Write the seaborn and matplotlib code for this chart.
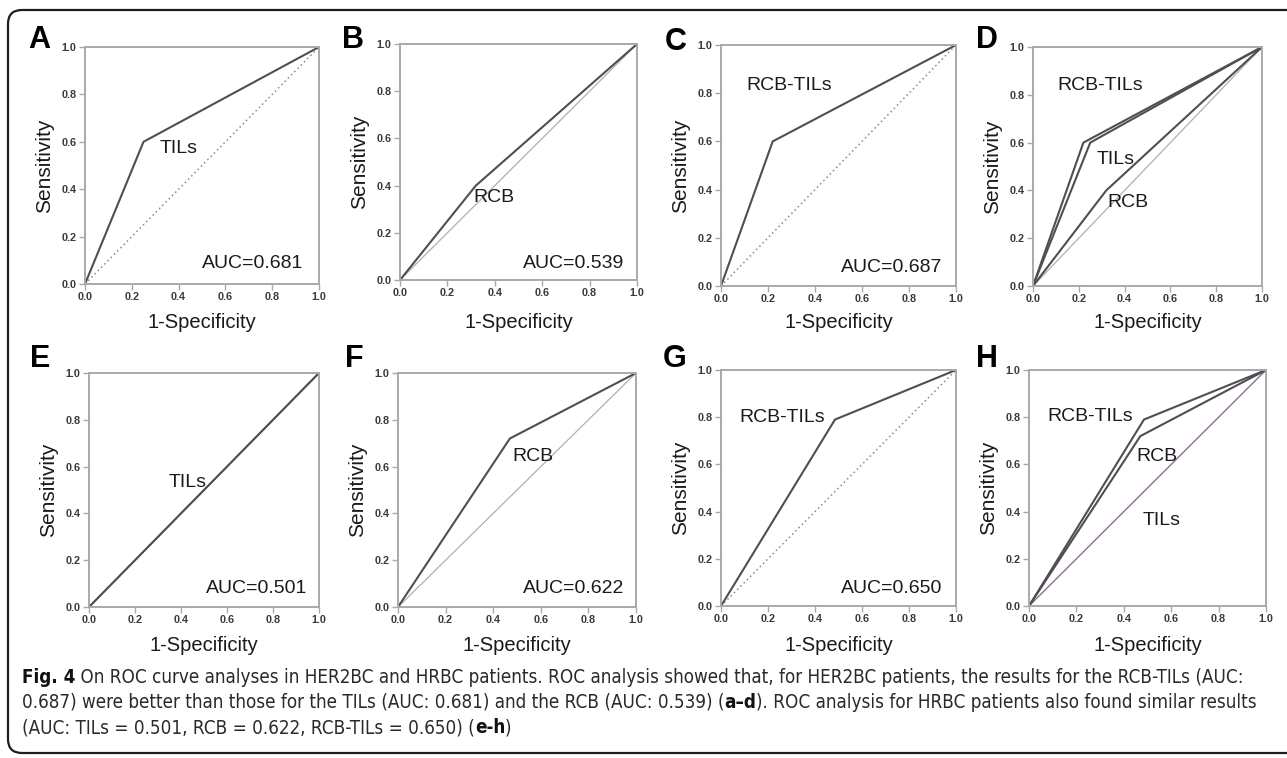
import numpy as np
import pandas as pd
import matplotlib
matplotlib.use("Agg")
import matplotlib.pyplot as plt
import seaborn as sns
from matplotlib import font_manager
from matplotlib.patches import FancyBboxPatch
from matplotlib.transforms import IdentityTransform

# ---------------- data ----------------
panel_letters = ["A", "B", "C", "D", "E", "F", "G", "H"]
auc_labels = ["AUC=0.681", "AUC=0.539", "AUC=0.687", None,
              "AUC=0.501", "AUC=0.622", "AUC=0.650", None]
tick_values = [0.0, 0.2, 0.4, 0.6, 0.8, 1.0]
tick_labels = ["0.0", "0.2", "0.4", "0.6", "0.8", "1.0"]

# ROC curves (1-specificity, sensitivity)
tils_her2_fpr = [0.0, 0.25, 1.0]
tils_her2_tpr = [0.0, 0.60, 1.0]
rcb_her2_fpr = [0.0, 0.32, 1.0]
rcb_her2_tpr = [0.0, 0.40, 1.0]
rcbtils_her2_fpr = [0.0, 0.22, 1.0]
rcbtils_her2_tpr = [0.0, 0.60, 1.0]
tils_hr_fpr = [0.0, 1.0]
tils_hr_tpr = [0.0, 1.0]
rcb_hr_fpr = [0.0, 0.47, 1.0]
rcb_hr_tpr = [0.0, 0.72, 1.0]
rcbtils_hr_fpr = [0.0, 0.485, 1.0]
rcbtils_hr_tpr = [0.0, 0.79, 1.0]
ref_fpr = [0.0, 1.0]
ref_tpr = [0.0, 1.0]

caption_line1 = [("Fig. 4", True),
                 (" On ROC curve analyses in HER2BC and HRBC patients. ROC analysis showed that, for HER2BC patients, the results for the RCB-TILs (AUC:", False)]
caption_line2 = [("0.687) were better than those for the TILs (AUC: 0.681) and the RCB (AUC: 0.539) (", False),
                 ("a\u2013d", True),
                 ("). ROC analysis for HRBC patients also found similar results", False)]
caption_line3 = [("(AUC: TILs = 0.501, RCB = 0.622, RCB-TILs = 0.650) (", False),
                 ("e-h", True), (")", False)]

# ---------------- long table for seaborn ----------------
curve_defs = [
    ("A", "TILs", tils_her2_fpr, tils_her2_tpr),
    ("B", "RCB", rcb_her2_fpr, rcb_her2_tpr),
    ("C", "RCB-TILs", rcbtils_her2_fpr, rcbtils_her2_tpr),
    ("D", "RCB-TILs", rcbtils_her2_fpr, rcbtils_her2_tpr),
    ("D", "TILs", tils_her2_fpr, tils_her2_tpr),
    ("D", "RCB", rcb_her2_fpr, rcb_her2_tpr),
    ("E", "TILs", tils_hr_fpr, tils_hr_tpr),
    ("F", "RCB", rcb_hr_fpr, rcb_hr_tpr),
    ("G", "RCB-TILs", rcbtils_hr_fpr, rcbtils_hr_tpr),
    ("H", "RCB-TILs", rcbtils_hr_fpr, rcbtils_hr_tpr),
    ("H", "RCB", rcb_hr_fpr, rcb_hr_tpr),
]
rows = []
for panel, name, fx, fy in curve_defs:
    for i, (x, y) in enumerate(zip(fx, fy)):
        rows.append({"panel": panel, "curve": name, "fpr": x, "tpr": y, "order": i})
df = pd.DataFrame(rows)
ref_df = pd.DataFrame({"fpr": ref_fpr, "tpr": ref_tpr})

# ---------------- style ----------------
sns.set_theme(style="white")
plt.rcParams["font.family"] = ["Liberation Sans", "DejaVu Sans"]

W, H = 1287, 758
fig = plt.figure(figsize=(W / 100, H / 100), dpi=100)
fig.patch.set_facecolor("white")

def px_axes(x0, y0, x1, y1):
    return fig.add_axes([x0 / W, 1 - y1 / H, (x1 - x0) / W, (y1 - y0) / H])

axes_px = {
    "A": (85, 47, 319, 284),
    "B": (400, 44, 637, 280),
    "C": (721, 45, 956, 286),
    "D": (1033, 47, 1262, 286),
    "E": (89, 373, 319, 607),
    "F": (398, 373, 636, 607),
    "G": (721, 370, 956, 606),
    "H": (1029, 370, 1266, 606),
}
xlabel_top_px = {"A": 313, "B": 313, "C": 313, "D": 313,
                 "E": 636, "F": 636, "G": 636, "H": 636}
letter_px = {
    "A": (39, 40), "B": (353, 40), "C": (676, 42), "D": (987, 40),
    "E": (40, 359), "F": (354, 359), "G": (675, 359), "H": (987, 359),
}
ref_style = {
    "A": dict(color="#8a8a8a", ls=(0, (1.0, 2.0)), lw=1.1),
    "B": dict(color="#b0b0b0", ls="-", lw=0.9),
    "C": dict(color="#8a8a8a", ls=(0, (1.0, 2.0)), lw=1.1),
    "D": dict(color="#b0b0b0", ls="-", lw=0.9),
    "E": dict(color="#555555", ls="-", lw=1.0),
    "F": dict(color="#b0b0b0", ls="-", lw=0.9),
    "G": dict(color="#8a8a8a", ls=(0, (1.0, 2.0)), lw=1.1),
    "H": dict(color="#8c6c9c", ls="-", lw=1.0),
}
curve_labels = {
    "A": [("TILs", 0.32, 0.57)],
    "B": [("RCB", 0.31, 0.35)],
    "C": [("RCB-TILs", 0.11, 0.83)],
    "D": [("RCB-TILs", 0.105, 0.84), ("TILs", 0.28, 0.53), ("RCB", 0.323, 0.35)],
    "E": [("TILs", 0.348, 0.53)],
    "F": [("RCB", 0.48, 0.645)],
    "G": [("RCB-TILs", 0.078, 0.80)],
    "H": [("RCB-TILs", 0.077, 0.805), ("RCB", 0.454, 0.633), ("TILs", 0.48, 0.364)],
}
auc_pos = {"A": (0.50, 0.087), "B": (0.52, 0.07), "C": (0.51, 0.077),
           "E": (0.51, 0.08), "F": (0.527, 0.077), "G": (0.51, 0.075)}

spine_col = "#a9a9a9"
curve_col = "#4f4f4f"

for idx, p in enumerate(panel_letters):
    x0, y0, x1, y1 = axes_px[p]
    ax = px_axes(x0, y0, x1, y1)
    ax.set_facecolor("white")
    rs = ref_style[p]
    sns.lineplot(data=ref_df, x="fpr", y="tpr", ax=ax, color=rs["color"],
                 linestyle=rs["ls"], linewidth=rs["lw"], estimator=None, sort=False)
    sub = df[df["panel"] == p]
    sns.lineplot(data=sub, x="fpr", y="tpr", units="curve", estimator=None,
                 sort=False, ax=ax, color=curve_col, linewidth=1.5, legend=False)
    ax.set_xlim(0, 1)
    ax.set_ylim(0, 1)
    ax.set_xticks(tick_values)
    ax.set_yticks(tick_values)
    ax.set_xticklabels(tick_labels)
    ax.set_yticklabels(tick_labels)
    ax.tick_params(axis="both", which="both", direction="out", length=4, width=1,
                   color=spine_col, labelsize=7.8, labelcolor="#3a3a3a", pad=2,
                   bottom=True, left=True, top=False, right=False)
    for lab in ax.get_xticklabels() + ax.get_yticklabels():
        lab.set_fontweight("bold")
    for s in ax.spines.values():
        s.set_visible(True)
        s.set_color(spine_col)
        s.set_linewidth(1.4)
    w = x1 - x0
    h = y1 - y0
    ax.set_xlabel("1-Specificity", fontsize=14.5, color="#1a1a1a")
    ax.set_ylabel("Sensitivity", fontsize=15, color="#1a1a1a")
    ax.xaxis.set_label_coords(0.5, -(xlabel_top_px[p] - y1) / h)
    ax.yaxis.set_label_coords(-31 / w, 0.5)
    for txt, tx, ty in curve_labels[p]:
        ax.text(tx, ty, txt, fontsize=14, color="#1a1a1a", ha="left", va="center")
    if auc_labels[idx] is not None:
        ax_, ay_ = auc_pos[p]
        ax.text(ax_, ay_, auc_labels[idx], fontsize=14, color="#1a1a1a",
                ha="left", va="center")
    lx, ly = letter_px[p]
    fig.text(lx / W, 1 - ly / H, p, fontsize=22, fontweight="bold", color="black",
             ha="center", va="center")

# ---------------- border ----------------
border = FancyBboxPatch((8, 758 - 753), 1320, 743,
                        boxstyle="round,pad=0,rounding_size=14",
                        transform=IdentityTransform(), fill=False,
                        edgecolor="#1e1e1e", linewidth=1.6)
fig.add_artist(border)

# ---------------- caption ----------------
names = {f.name for f in font_manager.fontManager.ttflist}
cap_family = ["Liberation Sans", "DejaVu Sans"]
cap_stretch = "normal"
if "Liberation Sans Narrow" in names:
    cap_family = ["Liberation Sans Narrow", "DejaVu Sans"]
else:
    cond = [f for f in font_manager.fontManager.ttflist
            if f.name == "DejaVu Sans" and str(f.stretch) in ("condensed", "semi-condensed", "600", "500", "700")]
    if cond:
        cap_family = ["DejaVu Sans", "Liberation Sans"]
        cap_stretch = "condensed"

cap_size = 12.5
baselines = [683, 708, 733]
all_pieces = []
line1_last = None
for li, (line, by) in enumerate(zip([caption_line1, caption_line2, caption_line3], baselines)):
    prev = None
    for txt, bold in line:
        kw = dict(fontsize=cap_size, family=cap_family, stretch=cap_stretch,
                  fontweight="bold" if bold else "normal",
                  color="#111111" if bold else "#2a2a2a")
        if prev is None:
            t = fig.text(22 / W, 1 - by / H, txt, ha="left", va="baseline", **kw)
        else:
            t = fig.add_artist(matplotlib.text.Annotation(
                txt, xy=(1, 0), xycoords=prev, ha="left", va="bottom", **kw))
        all_pieces.append(t)
        prev = t
    if li == 0:
        line1_last = prev

# fit caption width so line 1 spans 22 -> 1245 px
fig.canvas.draw()
r = fig.canvas.get_renderer()
right = line1_last.get_window_extent(r).x1
scale = (1245 - 22) / (right - 22)
for t in all_pieces:
    t.set_fontsize(cap_size * scale)

fig.savefig("out.png", dpi=100, facecolor="white")
